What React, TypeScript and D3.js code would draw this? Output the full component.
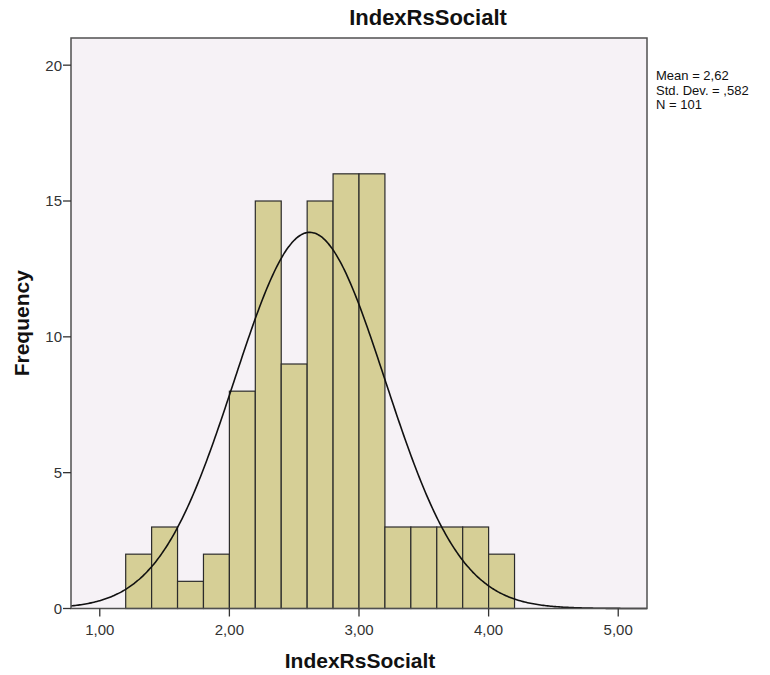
import React from "react";
import * as d3 from "d3";

// Histogram of IndexRsSocialt (bin width 0.2)
const binEdges = [1.2, 1.4, 1.6, 1.8, 2.0, 2.2, 2.4, 2.6, 2.8, 3.0, 3.2, 3.4, 3.6, 3.8, 4.0, 4.2];
const counts = [2, 3, 1, 2, 8, 15, 9, 15, 16, 16, 3, 3, 3, 3, 2];
const xTicks = [1, 2, 3, 4, 5];
const yTicks = [0, 5, 10, 15, 20];
const statsLines = ["Mean = 2,62", "Std. Dev. = ,582", "N = 101"];
const mean = 2.62;
const stdDev = 0.582;
const n = 101;
const binWidth = 0.2;

const W = 770;
const H = 675;
const plot = { left: 71, right: 647, top: 38, bottom: 608.5 };
const font = "Arial, 'Liberation Sans', sans-serif";

export default function App() {
  const x = d3.scaleLinear().domain([0.778, 5.222]).range([plot.left, plot.right]);
  const y = d3.scaleLinear().domain([0, 21]).range([plot.bottom, plot.top]);

  const fmt = (v: number) => v.toFixed(2).replace(".", ",");

  const normal = (v: number) =>
    (n * binWidth) / (stdDev * Math.sqrt(2 * Math.PI)) *
    Math.exp(-0.5 * ((v - mean) / stdDev) ** 2);

  const [d0, d1] = x.domain();
  const curvePts = d3.range(0, 401).map((i) => {
    const v = d0 + ((d1 - d0) * i) / 400;
    return [v, normal(v)] as [number, number];
  });
  const line = d3
    .line<[number, number]>()
    .x((d) => x(d[0]))
    .y((d) => y(d[1]))
    .curve(d3.curveBasis);

  return (
    <svg width={W} height={H} style={{ display: "block", position: "absolute", left: 0, top: 0 }}>
      <rect x={0} y={0} width={W} height={H} fill="#ffffff" />
      {/* plot background */}
      <rect
        x={plot.left}
        y={plot.top}
        width={plot.right - plot.left}
        height={plot.bottom - plot.top}
        fill="#F6F2F6"
      />
      {/* bars */}
      {counts.map((c, i) => (
        <rect
          key={i}
          x={x(binEdges[i])}
          y={y(c)}
          width={x(binEdges[i + 1]) - x(binEdges[i])}
          height={y(0) - y(c)}
          fill="#D6CF96"
          stroke="#2b2b2b"
          strokeWidth={1.2}
        />
      ))}
      {/* normal curve */}
      <path d={line(curvePts) || ""} fill="none" stroke="#111" strokeWidth={1.6} />
      {/* frame */}
      <rect
        x={plot.left}
        y={plot.top}
        width={plot.right - plot.left}
        height={plot.bottom - plot.top}
        fill="none"
        stroke="#505050"
        strokeWidth={1.5}
      />
      {/* y axis */}
      {yTicks.map((t) => (
        <g key={t}>
          <line x1={plot.left - 8} x2={plot.left} y1={y(t)} y2={y(t)} stroke="#333" strokeWidth={1.3} />
          <text
            x={plot.left - 9}
            y={y(t)}
            dy="0.36em"
            textAnchor="end"
            fontFamily={font}
            fontSize={15}
            fill="#333"
          >
            {t}
          </text>
        </g>
      ))}
      {/* x axis */}
      {xTicks.map((t) => (
        <g key={t}>
          <line x1={x(t)} x2={x(t)} y1={plot.bottom} y2={plot.bottom + 8} stroke="#333" strokeWidth={1.3} />
          <text
            x={x(t)}
            y={plot.bottom + 26}
            textAnchor="middle"
            fontFamily={font}
            fontSize={15}
            fill="#333"
          >
            {fmt(t)}
          </text>
        </g>
      ))}
      {/* titles */}
      <text x={428} y={25} textAnchor="middle" fontFamily={font} fontSize={22} fontWeight="bold" fill="#111">
        IndexRsSocialt
      </text>
      <text x={360} y={668} textAnchor="middle" fontFamily={font} fontSize={21} fontWeight="bold" fill="#111">
        IndexRsSocialt
      </text>
      <text
        transform={`translate(29, ${(plot.top + plot.bottom) / 2}) rotate(-90)`}
        textAnchor="middle"
        fontFamily={font}
        fontSize={21}
        fontWeight="bold"
        fill="#111"
      >
        Frequency
      </text>
      {/* summary statistics */}
      {statsLines.map((s, i) => (
        <text key={i} x={656} y={80 + i * 14.5} fontFamily={font} fontSize={13} fill="#111">
          {s}
        </text>
      ))}
    </svg>
  );
}
